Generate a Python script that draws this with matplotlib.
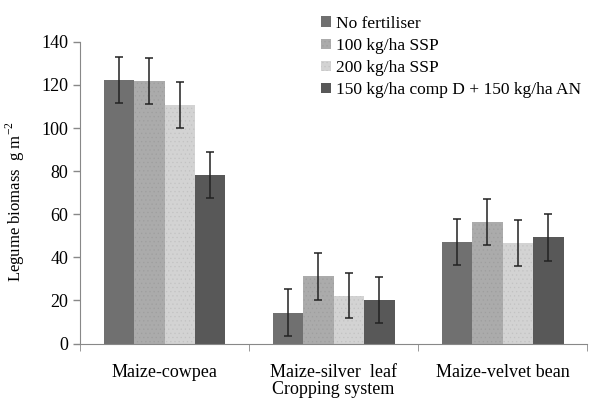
import numpy as np
import matplotlib
matplotlib.use('Agg')
import matplotlib.pyplot as plt

plt.rcParams['font.family'] = ['Liberation Serif', 'DejaVu Serif']
plt.rcParams['hatch.linewidth'] = 0.4

# data
systems = ['Maize-cowpea', 'Maize-silver  leaf', 'Maize-velvet bean']
treatments = ['No fertiliser', '100 kg/ha SSP', '200 kg/ha SSP',
              '150 kg/ha comp D + 150 kg/ha AN']
biomass = [
    [122.3, 14.4, 47.3],   # No fertiliser
    [121.9, 31.2, 56.6],   # 100 kg/ha SSP
    [110.9, 22.2, 46.7],   # 200 kg/ha SSP
    [78.1, 20.3, 49.3],    # comp D + AN
]
errors = [
    [10.7, 10.9, 10.7],
    [10.7, 10.8, 10.7],
    [10.7, 10.4, 10.8],
    [10.7, 10.7, 10.9],
]

colors = ['#707070', '#ababab', '#d3d3d3', '#585858']
hatch_cols = ['#707070', '#9e9e9e', '#c2c2c2', '#585858']
hatches = [None, '....', '....', None]

fig = plt.figure(figsize=(5.89, 3.99), dpi=100)
ax = fig.add_axes([0.136, 0.139, 0.861, 0.756])

x = np.arange(len(systems))
w = 0.18
for i in range(len(treatments)):
    pos = x + (i - 1.5) * w
    ax.bar(pos, biomass[i], w, color=colors[i], edgecolor=hatch_cols[i],
           linewidth=0, hatch=hatches[i], label=treatments[i], zorder=2)
    ax.errorbar(pos, biomass[i], yerr=errors[i], fmt='none', ecolor='#222222',
                elinewidth=1.1, capsize=3, capthick=1.1, zorder=3)

ax.set_xlim(-0.5, 2.5)
ax.set_ylim(0, 140)
ax.set_yticks(range(0, 141, 20))
ax.set_xticks(x)
ax.set_xticklabels(systems, fontsize=13)
ax.set_xticks([-0.5, 0.5, 1.5, 2.5], minor=True)
ax.tick_params(axis='x', which='major', length=0, pad=15)
ax.tick_params(axis='x', which='minor', length=5, color='#888888')
ax.tick_params(axis='y', labelsize=13, length=5, color='#888888', width=1)

ax.spines['top'].set_visible(False)
ax.spines['right'].set_visible(False)
ax.spines['left'].set_color('#888888')
ax.spines['bottom'].set_color('#888888')

ax.set_ylabel('Legume biomass  g m$^{\\mathregular{-2}}$', fontsize=12)
ax.yaxis.set_label_coords(-0.105, 0.47)
ax.set_xlabel('Cropping system', fontsize=13, labelpad=0)

ax.legend(loc='upper left', bbox_to_anchor=(0.462, 1.11), frameon=False,
          fontsize=12.5, handlelength=0.55, handleheight=0.55, handletextpad=0.3,
          labelspacing=0.36, borderaxespad=0)

fig.savefig('out.png', dpi=100)
